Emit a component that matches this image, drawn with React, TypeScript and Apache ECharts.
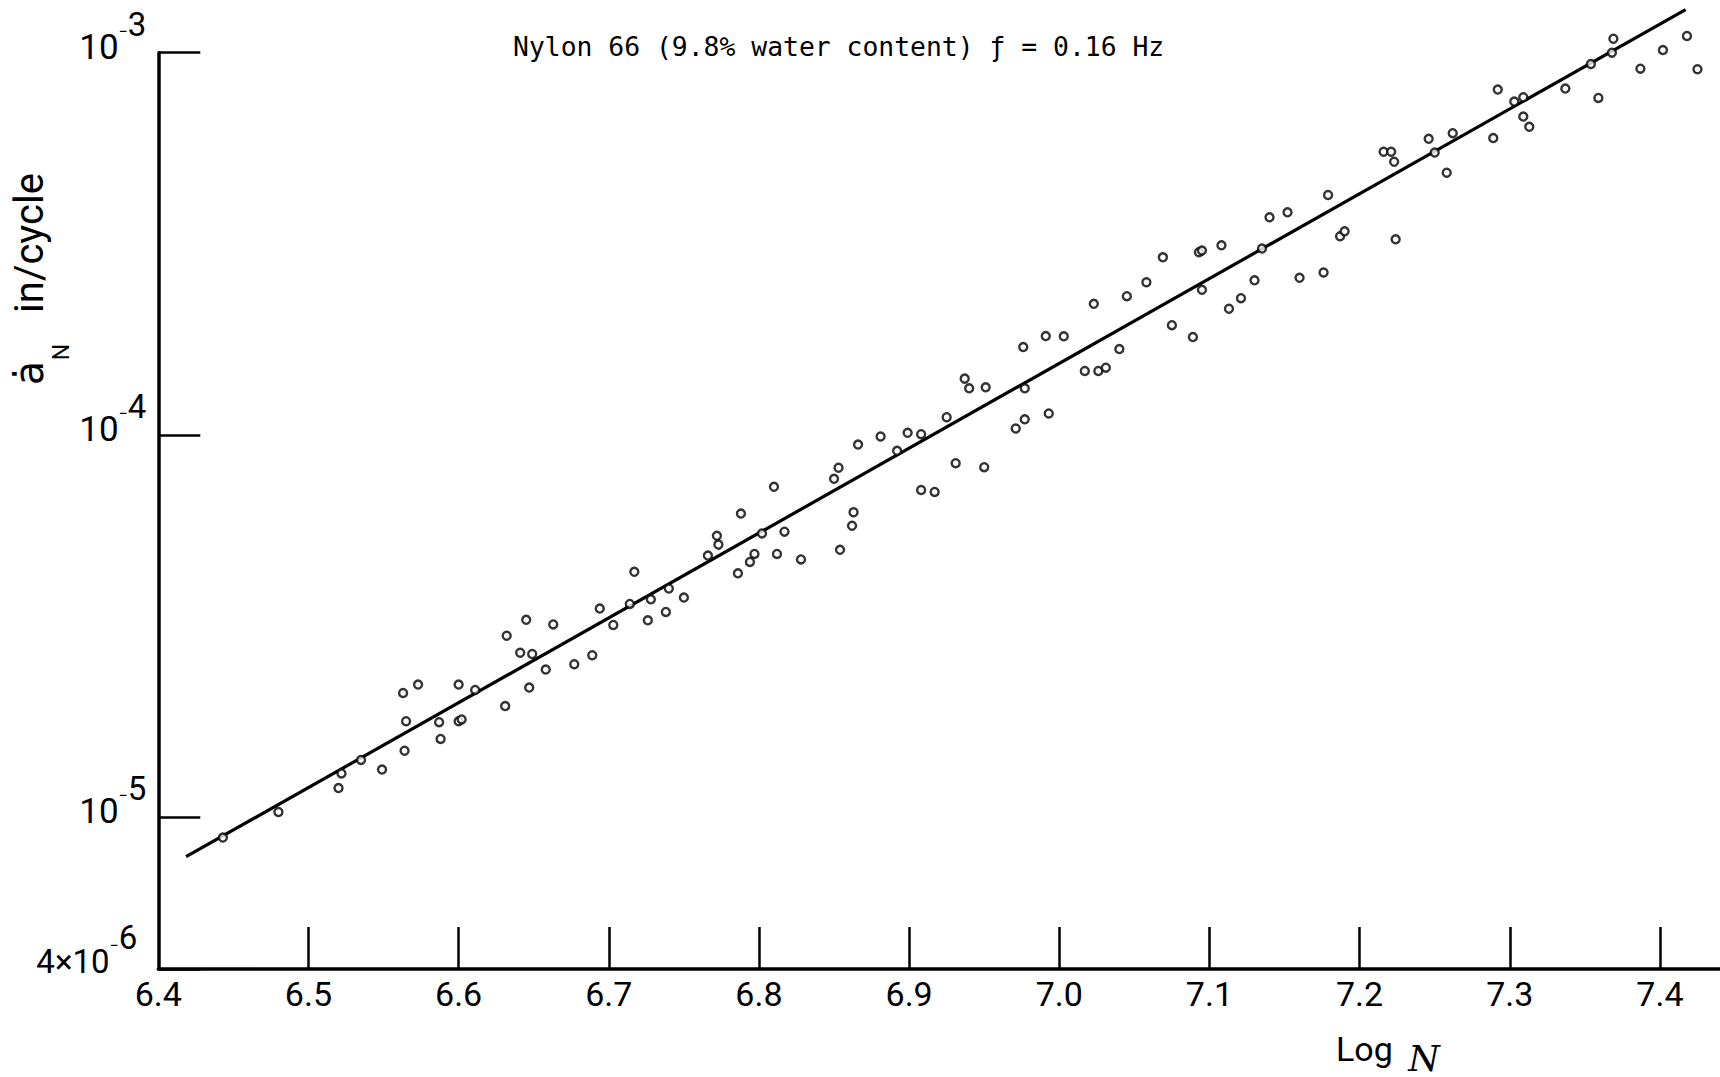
import React, { useEffect, useRef } from "react";
import * as echarts from "echarts";

// Fatigue crack growth rate of Nylon 66 against log of cycles
const logN = [
  6.443, 6.48, 6.52, 6.522, 6.535, 6.549, 6.563, 6.564, 6.565, 6.573,
  6.587, 6.588, 6.6, 6.6, 6.602, 6.611, 6.631, 6.632, 6.641, 6.645,
  6.647, 6.649, 6.658, 6.663, 6.677, 6.689, 6.694, 6.703, 6.714, 6.717,
  6.726, 6.728, 6.738, 6.74, 6.75, 6.766, 6.772, 6.773, 6.786, 6.788,
  6.794, 6.797, 6.802, 6.81, 6.812, 6.817, 6.828, 6.85, 6.853, 6.854,
  6.862, 6.863, 6.866, 6.881, 6.892, 6.899, 6.908, 6.908, 6.917, 6.925,
  6.931, 6.937, 6.94, 6.951, 6.95, 6.971, 6.976, 6.977, 6.977, 6.991,
  6.993, 7.003, 7.017, 7.023, 7.026, 7.031, 7.04, 7.045, 7.058, 7.069,
  7.075, 7.089, 7.093, 7.095, 7.095, 7.108, 7.113, 7.121, 7.13, 7.135,
  7.14, 7.152, 7.16, 7.176, 7.179, 7.187, 7.19, 7.216, 7.221, 7.223,
  7.224, 7.246, 7.25, 7.258, 7.262, 7.289, 7.292, 7.303, 7.309, 7.309,
  7.313, 7.337, 7.354, 7.359, 7.368, 7.369, 7.387, 7.402, 7.418, 7.425,
];

const crackRate = [
  8.83e-6, 1.03e-5, 1.19e-5, 1.3e-5, 1.41e-5, 1.33e-5, 2.11e-5, 1.49e-5, 1.78e-5, 2.22e-5,
  1.77e-5, 1.6e-5, 1.78e-5, 2.22e-5, 1.8e-5, 2.15e-5, 1.95e-5, 2.98e-5, 2.69e-5, 3.28e-5,
  2.18e-5, 2.67e-5, 2.43e-5, 3.19e-5, 2.51e-5, 2.65e-5, 3.51e-5, 3.18e-5, 3.61e-5, 4.38e-5,
  3.27e-5, 3.71e-5, 3.44e-5, 3.96e-5, 3.75e-5, 4.83e-5, 5.44e-5, 5.16e-5, 4.34e-5, 6.22e-5,
  4.65e-5, 4.88e-5, 5.52e-5, 7.31e-5, 4.88e-5, 5.58e-5, 4.72e-5, 7.67e-5, 8.2e-5, 5.0e-5,
  5.78e-5, 6.27e-5, 9.43e-5, 9.9e-5, 9.08e-5, 1.012e-4, 1.004e-4, 7.17e-5, 7.09e-5, 1.112e-4,
  8.43e-5, 1.403e-4, 1.323e-4, 1.331e-4, 8.23e-5, 1.039e-4, 1.697e-4, 1.323e-4, 1.098e-4, 1.813e-4,
  1.137e-4, 1.81e-4, 1.469e-4, 2.202e-4, 1.469e-4, 1.499e-4, 1.676e-4, 2.306e-4, 2.507e-4, 2.914e-4,
  1.936e-4, 1.802e-4, 3.004e-4, 3.035e-4, 2.396e-4, 3.133e-4, 2.137e-4, 2.278e-4, 2.537e-4, 3.071e-4,
  3.708e-4, 3.821e-4, 2.575e-4, 2.659e-4, 4.242e-4, 3.308e-4, 3.408e-4, 5.505e-4, 5.505e-4, 5.182e-4,
  3.248e-4, 5.952e-4, 5.481e-4, 4.852e-4, 6.159e-4, 5.977e-4, 8.006e-4, 7.447e-4, 6.805e-4, 7.646e-4,
  6.397e-4, 8.054e-4, 9.343e-4, 7.614e-4, 1.0e-3, 1.088e-3, 9.082e-4, 1.016e-3, 1.106e-3, 9.049e-4,
];

// Fitted straight line (end points)
const fitLogN = [6.4185, 7.4171];
const fitRate = [7.87e-6, 1.297e-3];

// Axis ticks and labels
const xTickValues = [6.5, 6.6, 6.7, 6.8, 6.9, 7.0, 7.1, 7.2, 7.3, 7.4];
const xLabelValues = [6.4, 6.5, 6.6, 6.7, 6.8, 6.9, 7.0, 7.1, 7.2, 7.3, 7.4];
const xMin = 6.4;
const xMax = 7.44;
const yMin = 4e-6;
const yMax = 1e-3;

const titleText = "Nylon 66 (9.8% water content) ƒ = 0.16 Hz";

const labelFont = "Roboto, 'DejaVu Sans', sans-serif";

function yLabel(v: number): string {
  const e = Math.log10(v);
  const k = Math.round(e);
  if (Math.abs(e - k) < 0.01) {
    return `{b|10}{m|−}{s|${-k}}`;
  }
  const exp = Math.floor(e + 1e-9);
  const mant = Math.round(v / Math.pow(10, exp));
  return `{c|${mant}×10}{n|−}{t|${-exp}}`;
}

export default function App() {
  const ref = useRef<HTMLDivElement>(null);

  useEffect(() => {
    document.body.style.margin = "0";
    if (!ref.current) return;
    const chart = echarts.init(ref.current, undefined, { renderer: "svg" });

    const points = logN.map((x, i) => [x, crackRate[i]]);
    const fit = fitLogN.map((x, i) => [x, fitRate[i]]);

    chart.setOption({
      animation: false,
      backgroundColor: "#ffffff",
      grid: { left: 158.3, right: 0, top: 52.7, bottom: 108, containLabel: false },
      xAxis: {
        type: "value",
        min: xMin,
        max: xMax,
        interval: 0.1,
        splitLine: { show: false },
        axisLine: { show: true, onZero: false, lineStyle: { color: "#000", width: 3.5 } },
        axisTick: {
          show: true,
          inside: true,
          length: 42,
          customValues: xTickValues,
          lineStyle: { color: "#000", width: 2.5 },
        },
        axisLabel: {
          show: true,
          customValues: xLabelValues,
          margin: 8,
          color: "#000",
          fontSize: 34,
          fontFamily: labelFont,
          formatter: (v: number) => v.toFixed(1),
        },
      },
      yAxis: {
        type: "log",
        logBase: 10,
        min: yMin,
        max: yMax,
        splitLine: { show: false },
        axisLine: { show: true, onZero: false, lineStyle: { color: "#000", width: 3.5 } },
        axisTick: { show: true, inside: true, length: 42, lineStyle: { color: "#000", width: 2.5 } },
        axisLabel: {
          show: true,
          margin: 12,
          color: "#000",
          fontFamily: labelFont,
          formatter: yLabel,
          rich: {
            b: { fontSize: 35, fontFamily: labelFont, color: "#000", padding: [0, 0, 10, 0] },
            m: { fontSize: 16, fontFamily: labelFont, color: "#000", padding: [0, 0, 42, 0] },
            s: { fontSize: 33, fontFamily: labelFont, color: "#000", padding: [0, 0, 56, 0] },
            c: { fontSize: 33, fontFamily: labelFont, color: "#000", padding: [0, 0, 15, 0] },
            n: { fontSize: 16, fontFamily: labelFont, color: "#000", padding: [0, 0, 48, 0] },
            t: { fontSize: 33, fontFamily: labelFont, color: "#000", padding: [0, 9, 63, 0] },
          },
        },
      },
      series: [
        {
          type: "line",
          data: fit,
          symbol: "none",
          clip: false,
          z: 2,
          lineStyle: { color: "#000", width: 3.2 },
        },
        {
          type: "scatter",
          data: points,
          symbol: "circle",
          symbolSize: 8,
          clip: false,
          z: 3,
          itemStyle: { color: "#fff", borderColor: "#000", borderWidth: 2.4 },
        },
      ],
      graphic: [
        {
          type: "text",
          x: 513,
          y: 47.5,
          scaleX: 1.015,
          style: {
            text: titleText,
            fontSize: 26,
            fontFamily: "'DejaVu Sans Mono', 'Liberation Mono', monospace",
            fill: "#000",
            align: "left",
            verticalAlign: "middle",
          },
        },
        {
          type: "text",
          x: 29,
          y: 243,
          rotation: Math.PI / 2,
          style: {
            text: "in/cycle",
            fontSize: 40,
            fontFamily: labelFont,
            fill: "#000",
            align: "center",
            verticalAlign: "middle",
          },
        },
        {
          type: "text",
          x: 29,
          y: 373,
          rotation: Math.PI / 2,
          style: {
            text: "ȧ",
            fontSize: 40,
            fontFamily: labelFont,
            fill: "#000",
            align: "center",
            verticalAlign: "middle",
          },
        },
        {
          type: "text",
          x: 61,
          y: 352,
          rotation: Math.PI / 2,
          style: {
            text: "N",
            fontSize: 23,
            fontFamily: labelFont,
            fill: "#000",
            align: "center",
            verticalAlign: "middle",
          },
        },
        {
          type: "text",
          x: 1336,
          y: 1048.5,
          style: {
            text: "Log",
            fontSize: 34,
            fontFamily: labelFont,
            fill: "#000",
            align: "left",
            verticalAlign: "middle",
          },
        },
        {
          type: "text",
          x: 1424,
          y: 1058,
          style: {
            text: "N",
            fontSize: 36,
            fontStyle: "italic",
            fontFamily: "'DejaVu Serif', serif",
            fill: "#000",
            align: "center",
            verticalAlign: "middle",
          },
        },
      ],
    });

    return () => {
      chart.dispose();
    };
  }, []);

  return <div ref={ref} style={{ width: 1720, height: 1077 }} />;
}
